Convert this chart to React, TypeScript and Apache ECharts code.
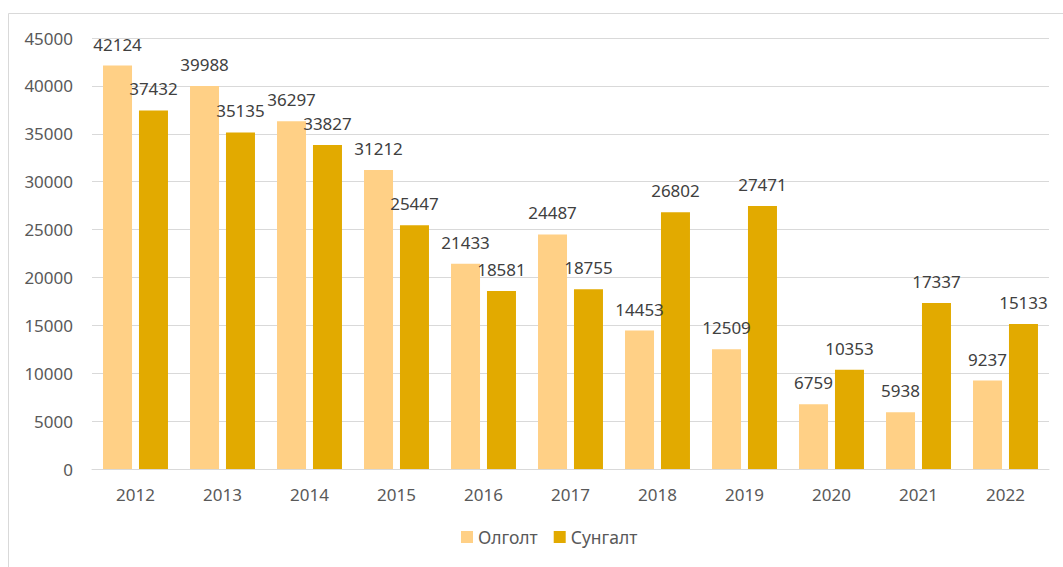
import React, { useEffect, useRef } from "react";
import * as echarts from "echarts";

const years = ["2012", "2013", "2014", "2015", "2016", "2017", "2018", "2019", "2020", "2021", "2022"];
const olgolt = [42124, 39988, 36297, 31212, 21433, 24487, 14453, 12509, 6759, 5938, 9237];
const sungalt = [37432, 35135, 33827, 25447, 18581, 18755, 26802, 27471, 10353, 17337, 15133];
const seriesNames = ["Олголт", "Сунгалт"];

const FONT = "'Noto Sans', 'Liberation Sans', sans-serif";

export default function App() {
  const ref = useRef<HTMLDivElement>(null);
  useEffect(() => {
    if (!ref.current) return;
    const chart = echarts.init(ref.current, undefined, { renderer: "svg" });
    const label = {
      show: true,
      position: "top" as const,
      distance: 13,
      color: "#404040",
      fontSize: 17,
      fontFamily: FONT,
    };
    chart.setOption({
      animation: false,
      backgroundColor: "#ffffff",
      graphic: [
        {
          type: "rect",
          shape: { x: 8.5, y: 13.5, width: 1070, height: 570 },
          style: { fill: "none", stroke: "#d9d9d9", lineWidth: 1 },
          silent: true,
        },
      ],
      grid: { left: 92, right: 14, top: 38, bottom: 98, containLabel: false },
      legend: {
        bottom: 16,
        left: 456,
        icon: "rect",
        itemWidth: 12,
        itemHeight: 12,
        itemGap: 16,
        textStyle: { color: "#595959", fontSize: 17.5, fontFamily: FONT },
        data: seriesNames,
      },
      xAxis: {
        type: "category",
        data: years,
        axisLine: { show: true, lineStyle: { color: "#d9d9d9", width: 1 } },
        axisTick: { show: false },
        axisLabel: { color: "#595959", fontSize: 17, fontFamily: FONT, margin: 17 },
      },
      yAxis: {
        type: "value",
        min: 0,
        max: 45000,
        interval: 5000,
        axisLine: { show: false },
        axisTick: { show: false },
        splitLine: { lineStyle: { color: "#d9d9d9", width: 1 } },
        axisLabel: {
          color: "#595959",
          fontSize: 17,
          fontFamily: FONT,
          margin: 19,
          formatter: (v: number) => String(v),
        },
      },
      series: [
        {
          name: seriesNames[0],
          type: "bar",
          data: olgolt,
          barWidth: 29,
          barGap: "24%",
          itemStyle: { color: "#FFD086" },
          label,
        },
        {
          name: seriesNames[1],
          type: "bar",
          data: sungalt,
          barWidth: 29,
          barGap: "24%",
          itemStyle: { color: "#E2AA00" },
          label,
        },
      ],
    });
    return () => chart.dispose();
  }, []);
  return (
    <div
      ref={ref}
      style={{ position: "fixed", left: 0, top: 0, width: 1063, height: 567 }}
    />
  );
}
